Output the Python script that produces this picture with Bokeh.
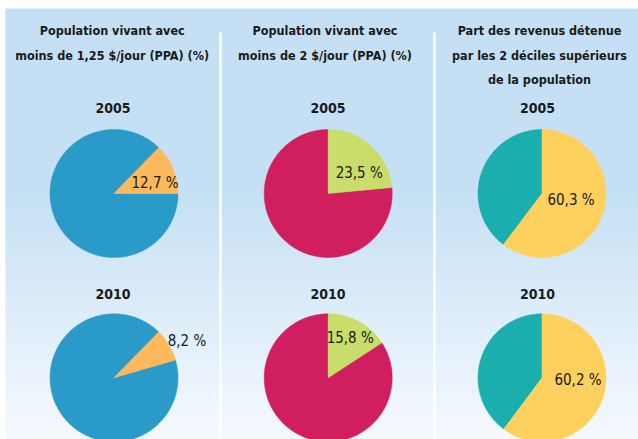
import numpy as np
from bokeh.plotting import figure
from bokeh.models import Range1d
from bokeh.core.properties import value
from bokeh.embed import file_html
from bokeh.resources import INLINE

# ---------------- data ----------------
panel_titles = [
    ["Population vivant avec", "moins de 1,25 $/jour (PPA) (%)"],
    ["Population vivant avec", "moins de 2 $/jour (PPA) (%)"],
    ["Part des revenus détenue", "par les 2 déciles supérieurs", "de la population"],
]
years = ["2005", "2010"]
pct_below_125 = [12.7, 8.2]
pct_below_2 = [23.5, 15.8]
pct_top20_share = [60.3, 60.2]

# ---------------- style / layout ----------------
W, H = 638, 439
FONT = "'DejaVu Sans Condensed', 'DejaVu Sans', sans-serif"
TXT = "#1a1a1a"
panel_x = [113.5, 327.7, 541.5]          # pie centre x per panel
year_x = [112.5, 327.5, 537.0]
pie_y = [193.0, 377.3]                    # pie centre y per year
year_y = [107.5, 293.0]
R = 64.0
main_colors = ["#2a9bc9", "#d01e5f", "#1aaeae"]
slice_colors = ["#fdb95b", "#c8dd6a", "#fed05e"]
# start angle (deg) and direction (+1 ccw, -1 cw) of the highlighted slice
slice_start = [[0.0, 16.2], [90.0, 90.0], [90.0, 90.0]]
slice_dir = [1, -1, -1]
label_off = [[(41, -10.5), (73, -37)], [(31, -20.5), (22, -40)], [(29, 6), (36, 2)]]

p = figure(width=W, height=H, output_backend="svg", toolbar_location=None,
           x_range=Range1d(0, W), y_range=Range1d(H, 0),
           x_axis_type=None, y_axis_type=None, min_border=0)
p.outline_line_color = None
p.grid.visible = False
p.background_fill_color = "white"
p.border_fill_color = "white"

# background with vertical gradient
c0 = np.array([197, 224, 245])
c1 = np.array([246, 250, 254])
ys = np.arange(8, H, 3)
tops, bots, cols = [], [], []
for y in ys:
    t = 0.0 if y < 185 else min(1.0, (y - 185) / (H - 185))
    c = (c0 + (c1 - c0) * t).astype(int)
    tops.append(y)
    bots.append(min(y + 3.5, H))
    cols.append("#%02x%02x%02x" % tuple(c))
p.quad(left=5, right=W, top=tops, bottom=bots, fill_color=cols, line_color=None)

# white separators
p.quad(left=[218.8, 432.8], right=[221.2, 435.2], top=[32, 32], bottom=[H, H],
       fill_color="white", line_color=None)


def arc_poly(cx, cy, a0, a1):
    n = max(4, int(abs(a1 - a0) / 1.0))
    th = np.radians(np.linspace(a0, a1, n))
    xs = np.concatenate([[cx], cx + R * np.cos(th)])
    ys_ = np.concatenate([[cy], cy - R * np.sin(th)])
    return list(xs), list(ys_)


series = [pct_below_125, pct_below_2, pct_top20_share]
for i, vals in enumerate(series):
    cx = panel_x[i]
    for j, v in enumerate(vals):
        cy = pie_y[j]
        s = slice_start[i][j]
        d = slice_dir[i]
        e = s + d * v * 3.6
        xr, yr = arc_poly(cx, cy, e, s + d * 360)
        xs_, ys2 = arc_poly(cx, cy, s, e)
        p.patch(xr, yr, fill_color=main_colors[i], line_color=main_colors[i], line_width=0.5)
        p.patch(xs_, ys2, fill_color=slice_colors[i], line_color=slice_colors[i], line_width=0.5)
        lab = ("%.1f" % v).replace(".", ",") + " %"
        ox, oy = label_off[i][j]
        p.text(x=[cx + ox], y=[cy + oy], text=[lab], text_font=value(FONT),
               text_font_size="15px", text_color=TXT, text_align="center",
               text_baseline="middle")

# year labels
for i in range(3):
    for j, yr in enumerate(years):
        p.text(x=[year_x[i]], y=[year_y[j]], text=[yr], text_font=value(FONT),
               text_font_size="14px", text_font_style="bold", text_color=TXT,
               text_align="center", text_baseline="middle")

# panel titles
title_cx = [111.7, 324.5, 539.0]
for i, lines in enumerate(panel_titles):
    for k, line in enumerate(lines):
        p.text(x=[title_cx[i]], y=[30 + 24.5 * k], text=[line], text_font=value(FONT),
               text_font_size="12.5px", text_font_style="bold", text_color=TXT,
               text_align="center", text_baseline="middle")

open("out.html", "w").write(file_html(p, INLINE))
